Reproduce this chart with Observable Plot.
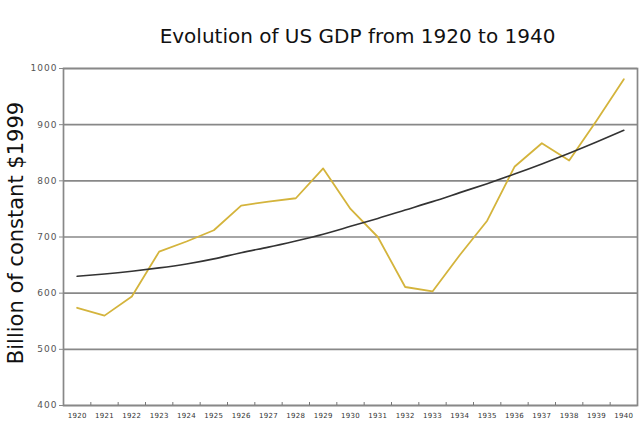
<!DOCTYPE html>
<html>
<head>
<meta charset="utf-8">
<script src="https://cdn.jsdelivr.net/npm/d3@7"></script>
<script src="https://cdn.jsdelivr.net/npm/@observablehq/plot@0.6"></script>
<style>
  html, body { margin: 0; padding: 0; background: #fff; }
  #chart svg { display: block; }
</style>
</head>
<body>
<div id="chart"></div>
<script>
const years = [1920,1921,1922,1923,1924,1925,1926,1927,1928,1929,1930,1931,1932,1933,1934,1935,1936,1937,1938,1939,1940];
const gdp = [574,560,594,674,692,712,756,763,769,822,750,700,611,603,668,729,825,867,836,907,981];
const trend = [630,634,639,645,652,661,672,682,693,705,719,733,748,763,779,795,812,830,849,869,890];
const yTicks = [400,500,600,700,800,900,1000];
const title = "Evolution of US GDP from 1920 to 1940";
const yLabel = "Billion of constant $1999";

const rows = years.map((y, i) => ({year: y, gdp: gdp[i], trend: trend[i]}));
const bounds = years.map(y => y + 0.5).slice(0, -1);

const chart = Plot.plot({
  width: 640,
  height: 433,
  marginLeft: 63,
  marginRight: 3,
  marginTop: 68,
  marginBottom: 28,
  style: {fontFamily: "DejaVu Sans", background: "#fff"},
  x: {domain: [1919.5, 1940.5], axis: null},
  y: {domain: [400, 1000], axis: null},
  marks: [
    Plot.gridY(yTicks, {stroke: "#888", strokeOpacity: 1, strokeWidth: 1.7}),
    Plot.frame({stroke: "#888", strokeWidth: 1.7}),
    Plot.axisY(yTicks, {anchor: "left", tickSize: 4, tickPadding: 2, stroke: "#888", fill: "#555", fontSize: 9, tickFormat: d => String(d), label: null}),
    Plot.axisX(bounds, {anchor: "bottom", tickSize: -3, stroke: "#777", tickFormat: () => "", label: null}),
    Plot.axisX(years, {anchor: "bottom", tickSize: 0, tickPadding: 8, fill: "#333", fontSize: 7, tickFormat: d => String(d), label: null}),
    Plot.line(rows, {x: "year", y: "gdp", stroke: "#d4b43c", strokeWidth: 1.8}),
    Plot.line(rows, {x: "year", y: "trend", curve: "natural", stroke: "#333", strokeWidth: 1.6}),
    Plot.text([title], {frameAnchor: "top", dx: 7, dy: -40, fontSize: 20, fill: "#111", text: d => d}),
    Plot.text([yLabel], {frameAnchor: "left", textAnchor: "middle", rotate: -90, dx: -47, dy: -4, fontSize: 21, fill: "#111", text: d => d})
  ]
});
d3.select(chart).selectAll('g[aria-label="y-axis tick label"] text').attr("letter-spacing", "1px");
d3.select(chart).selectAll('g[aria-label="x-axis tick label"] text').attr("letter-spacing", "0.3px");
document.getElementById("chart").appendChild(chart);
</script>
</body>
</html>
